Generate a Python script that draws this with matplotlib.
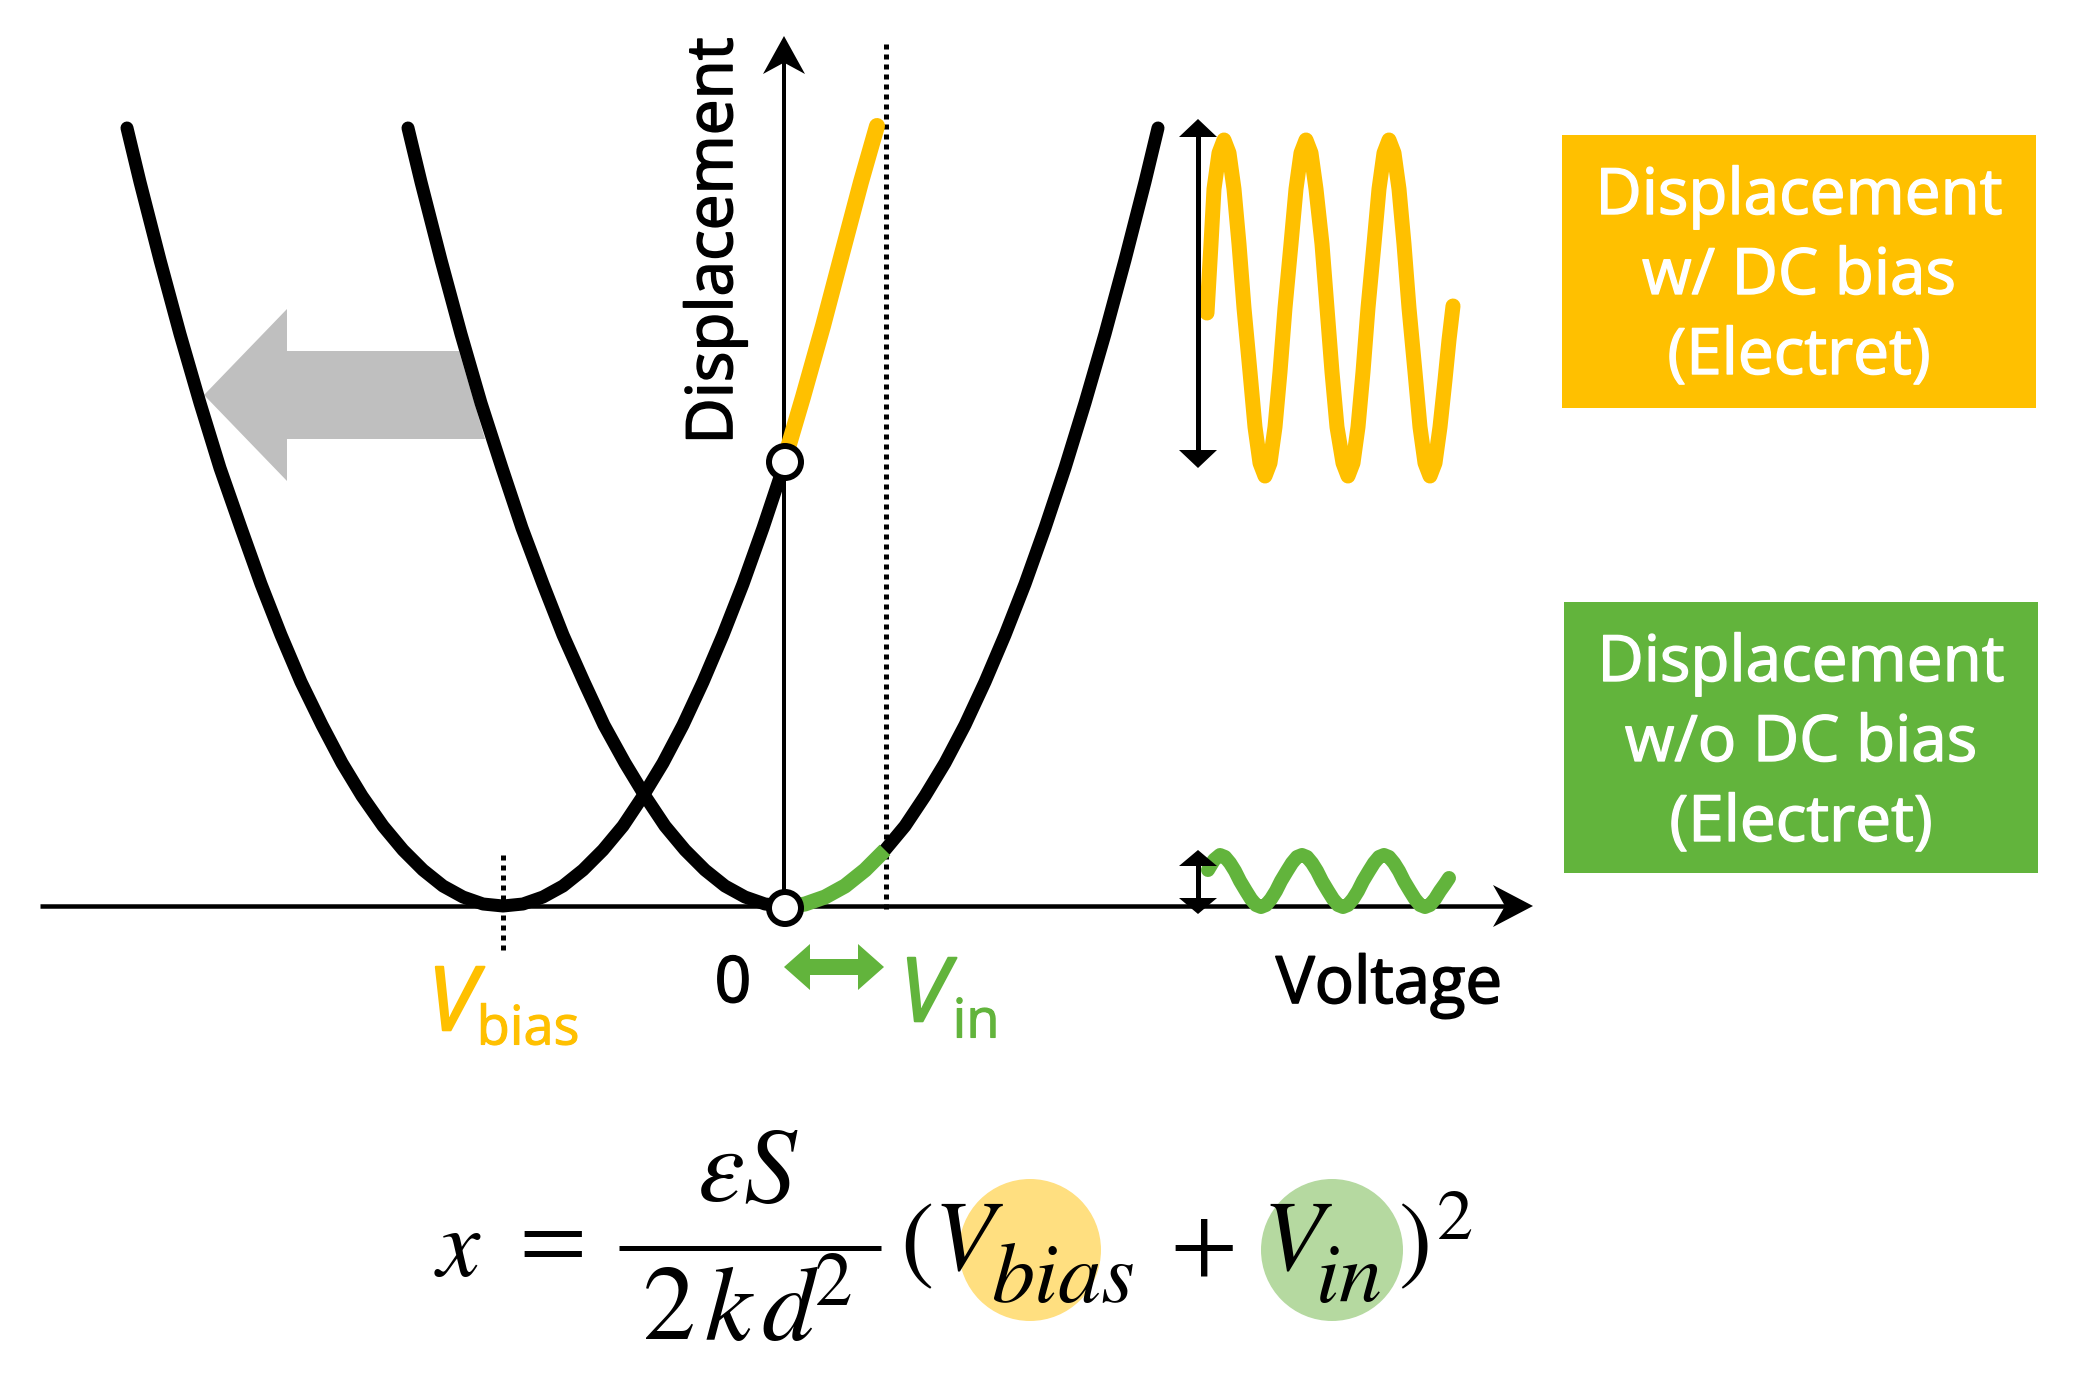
import matplotlib
matplotlib.use('Agg')
import matplotlib.pyplot as plt
import matplotlib.patheffects as pe
from matplotlib.patches import Polygon, Rectangle, Ellipse, Circle

# everything, in picture pixels
left_x = [127, 140, 160, 180, 200, 220, 241, 261, 281, 301, 322, 342, 362, 383, 403, 423, 443, 463, 483, 503,
          523, 543, 563, 583, 603, 623, 643, 663, 683, 703, 723, 743, 763, 783]
left_y = [128, 182, 260, 334, 403, 468, 528, 584, 635, 682, 725, 763, 796, 826, 850, 870, 886, 897, 904, 906,
          904, 897, 886, 870, 850, 826, 796, 763, 725, 682, 635, 584, 528, 468]
mid_x = [408, 421, 441, 461, 481, 502, 522, 543, 563, 584, 604, 625, 645, 665, 685, 705, 725, 745, 765, 785]
mid_y = [128, 182, 260, 334, 403, 468, 528, 584, 635, 682, 725, 763, 796, 826, 850, 870, 886, 897, 904, 906]
right_x = [885, 905, 925, 945, 965, 985, 1005, 1025, 1045, 1065, 1085, 1105, 1125, 1145, 1158]
right_y = [850, 826, 796, 763, 725, 682, 635, 584, 528, 468, 403, 334, 260, 182, 128]
green_x = [799, 805, 825, 845, 865, 885]
green_y = [905, 904, 897, 886, 870, 850]
yellow_x = [785, 803, 823, 843, 861, 877]
yellow_y = [458, 397, 326, 250, 182, 126]

wave_y_x = [1207, 1211, 1214, 1219, 1224, 1229, 1234, 1239, 1244, 1250, 1255, 1260, 1265, 1270, 1275, 1280, 1285,
            1291, 1296, 1301, 1306, 1311, 1316, 1322, 1327, 1332, 1337, 1343, 1348, 1353, 1358, 1363, 1368, 1374,
            1379, 1384, 1389, 1394, 1399, 1404, 1409, 1415, 1420, 1425, 1430, 1435, 1440, 1445, 1449, 1453]
wave_y_y = [313, 244, 189, 153, 140, 153, 189, 244, 308, 372, 427, 463, 476, 463, 427, 372, 308,
            244, 189, 153, 140, 153, 189, 244, 308, 372, 427, 463, 476, 463, 427, 372, 308, 244,
            189, 153, 140, 153, 189, 244, 308, 372, 427, 463, 476, 463, 427, 380, 340, 306]
wave_g_x = [1208, 1214, 1220, 1225, 1230, 1235, 1240, 1246, 1251, 1256, 1261, 1266, 1271, 1276, 1281, 1287, 1292,
            1297, 1302, 1307, 1312, 1317, 1322, 1328, 1333, 1338, 1343, 1348, 1353, 1358, 1363, 1369, 1374, 1379,
            1384, 1389, 1394, 1399, 1404, 1410, 1415, 1420, 1425, 1430, 1435, 1440, 1445, 1449]
wave_g_y = [870, 860, 855, 857, 863, 871, 881, 891, 899, 905, 907, 905, 899, 891, 881, 871, 863,
            857, 855, 857, 863, 871, 881, 891, 899, 905, 907, 905, 899, 891, 881, 871, 863, 857,
            855, 857, 863, 871, 881, 891, 899, 905, 907, 905, 899, 891, 884, 878]

box_labels = ['Displacement', 'w/ DC bias', '(Electret)']
box_labels2 = ['Displacement', 'w/o DC bias', '(Electret)']

YELLOW = '#ffc000'
GREEN = '#62b43c'
FONT = 'Open Sans'


def px(n):
    return n * 0.72


def head(ax, tip, dx, dy, length, half, notch=0.0, color='k', z=4):
    # arrow head pointing along (dx, dy), notch pulls the back edge in
    nx, ny = -dy, dx
    bx, by = tip[0] - dx * length, tip[1] - dy * length
    pts = [tip, (bx + nx * half, by + ny * half),
           (tip[0] - dx * length * (1 - notch), tip[1] - dy * length * (1 - notch)),
           (bx - nx * half, by - ny * half)]
    ax.add_patch(Polygon(pts, closed=True, fc=color, ec='none', zorder=z))


def bold(color, w=1.3):
    return [pe.withStroke(linewidth=w, foreground=color)]


fig = plt.figure(figsize=(20.76, 13.85), dpi=100)
ax = fig.add_axes([0, 0, 1, 1])
ax.set_xlim(0, 2076)
ax.set_ylim(1385, 0)
ax.axis('off')

# grey shift arrow
ax.add_patch(Polygon([(204, 395), (287, 309), (287, 351), (459, 351), (485, 439), (287, 439), (287, 481)],
                     closed=True, fc='#bfbfbf', ec='none', zorder=1))

# axes
ax.plot([40, 1517], [906, 906], color='k', lw=px(4.5), zorder=2, solid_capstyle='butt')
ax.plot([784, 784], [906, 50], color='k', lw=px(4), zorder=2, solid_capstyle='butt')
head(ax, (1533, 906), 1, 0, 40, 21, 0.3)
head(ax, (784, 36), 0, -1, 38, 21, 0.3)

# dotted guides
dots = (0, (1, 1))
ax.plot([886, 886], [44, 910], color='k', lw=px(5), ls=dots, zorder=2)
ax.plot([503, 503], [855, 955], color='k', lw=px(5), ls=dots, zorder=2)

# curves
for xs, ys in [(left_x, left_y), (mid_x, mid_y), (right_x, right_y)]:
    ax.plot(xs, ys, color='k', lw=px(13), solid_capstyle='round', solid_joinstyle='round', zorder=3)
ax.plot(green_x, green_y, color=GREEN, lw=px(15), solid_capstyle='butt', zorder=3)
ax.plot(yellow_x, yellow_y, color=YELLOW, lw=px(16), solid_capstyle='round', zorder=3)

for cy in [462, 908]:
    ax.add_patch(Circle((785, cy), 16, fc='white', ec='k', lw=px(6), zorder=5))

# waves on the right
ax.plot(wave_y_x, wave_y_y, color=YELLOW, lw=px(15), solid_capstyle='round', solid_joinstyle='round', zorder=3)
ax.plot(wave_g_x, wave_g_y, color=GREEN, lw=px(14), solid_capstyle='round', solid_joinstyle='round', zorder=3)
ax.plot([1198, 1198], [125, 462], color='k', lw=px(5), zorder=4, solid_capstyle='butt')
head(ax, (1198, 119), 0, -1, 18, 19)
head(ax, (1198, 468), 0, 1, 18, 19)
ax.plot([1198, 1198], [856, 908], color='k', lw=px(5), zorder=4, solid_capstyle='butt')
head(ax, (1198, 850), 0, -1, 16, 19)
head(ax, (1198, 914), 0, 1, 16, 19)

# V_in range arrow
ax.plot([800, 865], [967, 967], color=GREEN, lw=px(16), zorder=4, solid_capstyle='butt')
head(ax, (784, 967), -1, 0, 26, 23, color=GREEN)
head(ax, (884, 967), 1, 0, 26, 23, color=GREEN)

# boxes
for (x, y, w, h, col, labels) in [(1562, 135, 474, 273, YELLOW, box_labels),
                                  (1564, 602, 474, 271, GREEN, box_labels2)]:
    ax.add_patch(Rectangle((x, y), w, h, fc=col, ec='none', zorder=1))
    for i, s in enumerate(labels):
        ax.text(x + w / 2, y + 62 + i * 80, s, color='white', fontsize=46, family=FONT, ha='center', va='center',
                path_effects=bold('white', 1.0))

# labels
ax.text(715, 241, 'Displacement', rotation=90, color='k', fontsize=46, family=FONT,
        ha='center', va='center', path_effects=bold('k', 1.2))
ax.text(1389, 986, 'Voltage', color='k', fontsize=47, family=FONT, ha='center', va='center',
        path_effects=bold('k', 1.2))
ax.text(733, 985, '0', color='k', fontsize=46, family=FONT, ha='center', va='center',
        path_effects=bold('k', 1.2))
ax.text(452, 1007, 'V', color=YELLOW, fontsize=64, family=FONT, style='italic', ha='center', va='center',
        path_effects=bold(YELLOW, 1.5))
ax.text(528, 1030, 'bias', color=YELLOW, fontsize=39, family=FONT, ha='center', va='center',
        path_effects=bold(YELLOW, 0.8))
ax.text(924, 998, 'V', color=GREEN, fontsize=64, family=FONT, style='italic', ha='center', va='center',
        path_effects=bold(GREEN, 1.5))
ax.text(976, 1023, 'in', color=GREEN, fontsize=39, family=FONT, ha='center', va='center',
        path_effects=bold(GREEN, 0.8))

# equation
ax.add_patch(Ellipse((1030, 1250), 142, 142, fc='#ffdf80', ec='none', zorder=1))
ax.add_patch(Ellipse((1332, 1250), 142, 142, fc='#b5d9a0', ec='none', zorder=1))
ax.plot([619, 881], [1248, 1248], color='k', lw=px(5), solid_capstyle='butt', zorder=2)
SERIF = 'STIXGeneral'
for (x, y, s, fs, st) in [(458, 1253, 'x', 70, 'italic'), (553, 1246, '=', 70, 'normal'),
                          (748, 1175, 'εS', 76, 'italic'), (669, 1314, '2', 76, 'normal'),
                          (728, 1314, 'k', 76, 'italic'), (788, 1314, 'd', 76, 'italic'),
                          (834, 1288, '2', 54, 'normal'),
                          (917, 1248, '(', 72, 'normal'), (964, 1244, 'V', 72, 'italic'),
                          (1063, 1282, 'bias', 62, 'italic'), (1204, 1250, '+', 70, 'normal'),
                          (1293, 1244, 'V', 72, 'italic'), (1349, 1282, 'in', 62, 'italic'),
                          (1415, 1248, ')', 72, 'normal'), (1455, 1222, '2', 52, 'normal')]:
    ax.text(x, y, s, color='k', fontsize=fs, family=SERIF, style=st, ha='center', va='center', zorder=3)

plt.savefig('out.png', dpi=100, facecolor='white')
